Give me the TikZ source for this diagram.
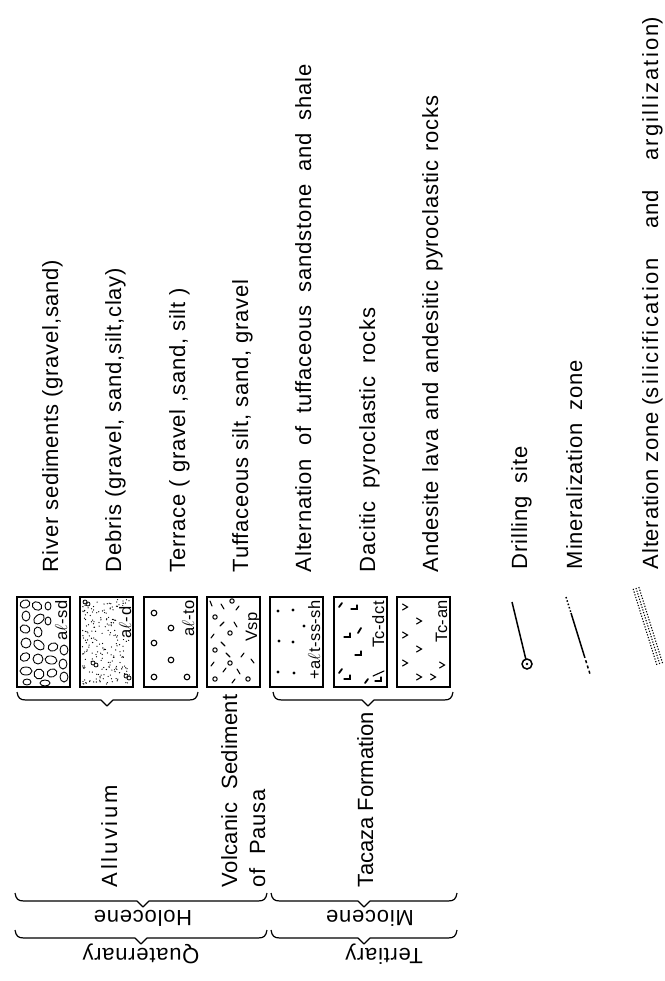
\documentclass[tikz,border=0pt]{standalone}
\usepackage{fontspec}
\setmainfont{Liberation Sans}[LetterSpace=3.5]
\usetikzlibrary{calc}
\newcommand{\wsp}{\hspace{0.6em}}
\newcommand{\nsp}{\hspace{0.4em}}
\newcommand{\bsp}{\hspace{1.35em}}
\newcommand{\hbrace}[4]{%
  \draw[bracestyle] (#1,#3-8) .. controls (#1+1,#3-2) and (#1+3,#3) .. (#1+9,#3)
    -- (#4-6,#3) -- (#4,#3+6) -- (#4+6,#3) -- (#2-9,#3)
    .. controls (#2-3,#3) and (#2-1,#3-2) .. (#2,#3-8);}
\begin{document}
\begin{tikzpicture}[x=1pt,y=-1pt,
  every node/.style={inner sep=0pt, outer sep=0pt},
  desc/.style={rotate=90, anchor=base west, font=\fontsize{22}{26}\selectfont},
  era/.style={rotate=180, anchor=base, font=\fontsize{22}{26}\selectfont},
  lbl/.style={rotate=90, anchor=base east, font=\fontsize{16.5}{18}\selectfont},
  litho/.style={draw, line width=2.2pt, anchor=north west, minimum width=53pt, minimum height=90pt},
  bracestyle/.style={line width=1.2pt, line join=round},
  peb/.style={line width=0.9pt},
  pmark/.style={line width=1.1pt, line cap=round},
]
\path[use as bounding box, fill=white] (0,0) rectangle (664,981);

% ---------- descriptions ----------
\node[desc] (t1) at (58,572) {River sediments (gravel,sand)};
\node[desc] (t2) at (121,572) {Debris (gravel, sand,silt,clay)};
\node[desc] (t3) at (185,572) {Terrace ( gravel ,sand, silt )};
\node[desc] (t4) at (248,572) {Tuffaceous silt, sand, gravel};
\node[desc] (t5) at (311,572) {Alternation\wsp of\wsp tuffaceous\wsp sandstone\wsp and\wsp shale};
\node[desc] (t6) at (375,572) {Dacitic\wsp pyroclastic\wsp rocks};
\node[desc] (t7) at (438,572) {Andesite\nsp lava\nsp and\nsp andesitic\nsp pyroclastic\nsp rocks};
\node[desc] (l1) at (527,569) {Drilling\wsp site};
\node[desc] (l2) at (582,569) {Mineralization\wsp zone};
\node[desc] (l3) at (658,569) {Alteration zone ({\addfontfeature{LetterSpace=10}silicification}\bsp and\bsp {\addfontfeature{LetterSpace=10}argillization})};

% ---------- box 1 : al-sd ----------
\begin{scope}[shift={(17,597)}]
  \node[litho] (b1) at (0,0) {};
  \foreach \u/\v/\a/\b/\r in {8/7/5/4/20, 20/9/5/4/-30, 9/19/4/5/0, 22/22/6/4/40, 8/32/5/4/-20,
      21/35/4/5/10, 9/46/5/5/0, 22/48/6/4/-40, 36/50/5/4/20, 47/53/4/5/0, 8/60/5/4/30,
      21/62/5/5/0, 34/63/6/4/-10, 46/67/4/5/0, 9/74/6/4/0, 22/77/5/5/-20, 35/76/5/4/20,
      47/80/4/5/0, 10/85/4/3/0, 28/86/5/3/0, 31/24/3/4/0, 31/9/3/4/0}
    \draw[peb, rotate around={\r:(\u,\v)}] (\u,\v) ellipse [x radius=\a pt, y radius=\b pt];
  \node[lbl, fill=white, inner sep=0.5pt] (n1) at (50,3) {a$\ell$-sd};
\end{scope}

% ---------- box 2 : al-d ----------
\begin{scope}[shift={(80,597)}]
  \node[litho] (b2) at (0,0) {};
  \pgfmathsetseed{4321}
  \foreach \i in {1,...,230}{
    \pgfmathsetmacro\uu{2.5+48*rnd}
    \pgfmathsetmacro\vv{2.5+85*rnd}
    \fill (\uu,\vv) circle (0.65pt);
  }
  \foreach \u/\v in {5/5, 13/66, 46/79}{
    \draw[line width=0.8pt] (\u,\v) circle (2pt) (\u+3,\v+2) circle (2pt);
  }
  \node[lbl, fill=white, inner sep=0.8pt] (n2) at (51,9) {a$\ell$-d};
\end{scope}

% ---------- box 3 : al-to ----------
\begin{scope}[shift={(144,597)}]
  \node[litho] (b3) at (0,0) {};
  \foreach \u/\v in {10/16, 27/31, 10/46, 27/63, 10/80, 43/80}
    \draw[line width=1.1pt] (\u,\v) circle (2.8pt);
  \node[lbl] (n3) at (50,3) {a$\ell$-to};
\end{scope}

% ---------- box 4 : Vsp ----------
\begin{scope}[shift={(207,597)}]
  \node[litho] (b4) at (0,0) {};
  \foreach \u/\v in {8/20, 25/4, 23/36, 8/53, 23/66, 8/82, 41/82}
    \draw[line width=1pt] (\u,\v) circle (2.2pt);
  \foreach \ua/\va/\ub/\vb in {3/4/5/9, 14/7/17/12, 29/13/32/9, 13/29/17/25, 27/25/30/30,
      4/41/7/37, 14/45/18/49, 19/56/23/60, 34/60/37/56, 4/69/7/65, 16/75/19/71,
      30/72/33/77, 44/62/47/66, 25/86/28/82}
    \draw[pmark] (\ua,\va) -- (\ub,\vb);
  \node[lbl] (n4) at (50,15) {Vsp};
\end{scope}

% ---------- box 5 : alt-ss-sh ----------
\begin{scope}[shift={(270,597)}]
  \node[litho] (b5) at (0,0) {};
  \foreach \u/\v in {8/14, 23/13, 9/44, 23/45, 8/75, 24/76, 34/29}
    \fill (\u,\v) circle (1.6pt);
  \node[lbl] (n5) at (50,3) {+a$\ell$t-ss-sh};
\end{scope}

% ---------- box 6 : Tc-dct ----------
\begin{scope}[shift={(334,597)}]
  \node[litho] (b6) at (0,0) {};
  \foreach \ua/\va/\ub/\vb in {5/10/8/6, 24/36/27/31, 5/76/8/72, 31/86/34/82}
    \draw[line width=1.8pt, line cap=round] (\ua,\va) -- (\ub,\vb);
  \foreach \u/\v in {20/12, 13/40, 24/58, 13/82, 44/84}
    \draw[pmark] (\u-3,\v) -- (\u+3,\v) -- (\u+3,\v-4);
  \node[lbl] (n6) at (50,4) {Tc-dct};
  \draw[pmark] (39,79) -- (50,74);
\end{scope}

% ---------- box 7 : Tc-an ----------
\begin{scope}[shift={(397,597)}]
  \node[litho] (b7) at (0,0) {};
  \foreach \u/\v in {8/10, 8/38, 8/66, 22/24, 22/52, 22/80, 36/80, 45/68}
    \draw[pmark] (\u-2.5,\v-3) -- (\u+2.5,\v) -- (\u-2.5,\v+3);
  \node[lbl] (n7) at (50,3) {Tc-an};
\end{scope}

% ---------- formations ----------
\node[desc] (f1) at (117,887) {\addfontfeature{LetterSpace=12}Alluvium};
\node[desc] (f2) at (237,887) {\addfontfeature{LetterSpace=1.5}Volcanic\wsp Sediment};
\node[desc] (f3) at (265,887) {of\wsp Pausa};
\node[desc] (f4) at (373,887) {\addfontfeature{LetterSpace=0}Tacaza Formation};

% ---------- braces ----------
\hbrace{17}{198}{700}{107}
\hbrace{273}{453}{700}{368}
\hbrace{15}{267}{901}{143}
\hbrace{271}{457}{901}{364}
\hbrace{15}{267}{938}{141}
\hbrace{271}{457}{938}{364}

% ---------- eras ----------
\node[era] (e1) at (143,910) {Holocene};
\node[era] (e2) at (370,910) {Miocene};
\node[era] (e3) at (141,948) {Quaternary};
\node[era] (e4) at (384,948) {Tertiary};

% ---------- legend symbols ----------
\coordinate (dtop) at (512,602);
\node[circle, draw, line width=1.5pt, minimum size=10pt] (drill) at (527,664) {};
\fill (drill.center) circle (1.3pt);
\draw[line width=1.5pt] (dtop) -- (drill);

\coordinate (m1) at (566,597);
\coordinate (m2) at (571,613);
\coordinate (m3) at (584,655);
\coordinate (m4) at (590,674);
\draw[line width=1.5pt, dash pattern=on 1.5pt off 2pt] (m1) -- (m2);
\draw[line width=1.5pt] (m2) -- (m3);
\draw[line width=1.5pt, dash pattern=on 3pt off 2.5pt] (m3) -- (m4);

\coordinate (a1) at (636,588);
\coordinate (a2) at (660,665);
\foreach \o in {-3pt,0pt,3pt}
  \draw[line width=1.1pt, dash pattern=on 1.2pt off 1.6pt]
    ($(a1)!\o!90:(a2)$) -- ($(a2)!\o!-90:(a1)$);
\end{tikzpicture}
\end{document}
